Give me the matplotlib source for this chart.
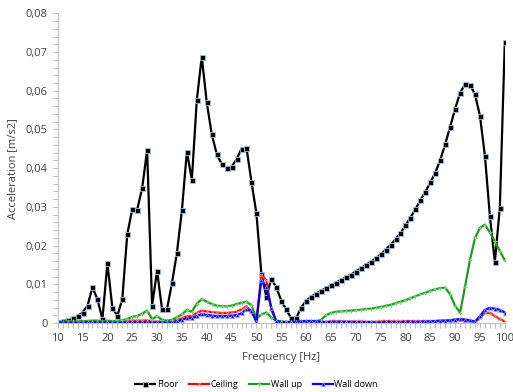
import numpy as np
import matplotlib.pyplot as plt
from matplotlib.ticker import MultipleLocator, FuncFormatter

plt.rcParams['font.family'] = ['Open Sans', 'DejaVu Sans']

# frequencies 10..100 Hz
freq = list(range(10, 101))

floor = [0.0003, 0.0005, 0.0009, 0.0012, 0.0018, 0.0027, 0.0045, 0.0092, 0.0061, 0.0010,
         0.0154, 0.0040, 0.0018, 0.0062, 0.0229, 0.0294, 0.0293, 0.0348, 0.0447, 0.0045,
         0.0135, 0.0036, 0.0036, 0.0103, 0.0182, 0.0291, 0.0443, 0.0370, 0.0576, 0.0688,
         0.0570, 0.0488, 0.0437, 0.0411, 0.0400, 0.0404, 0.0423, 0.0450, 0.0453, 0.0365,
         0.0283, 0.0127, 0.0068, 0.0114, 0.0092, 0.0058, 0.0035, 0.0012, 0.0012, 0.0040,
         0.0057, 0.0068, 0.0076, 0.0083, 0.0090, 0.0097, 0.0104, 0.0111, 0.0118, 0.0125,
         0.0133, 0.0141, 0.0150, 0.0158, 0.0167, 0.0177, 0.0189, 0.0202, 0.0216, 0.0232,
         0.0252, 0.0272, 0.0294, 0.0317, 0.0339, 0.0363, 0.0388, 0.0421, 0.0462, 0.0507,
         0.0553, 0.0595, 0.0617, 0.0615, 0.0591, 0.0535, 0.0432, 0.0276, 0.0158, 0.0298,
         0.0725]

ceiling = [0.0002, 0.0002, 0.0003, 0.0002, 0.0003, 0.0003, 0.0004, 0.0005, 0.0004, 0.0002,
           0.0004, 0.0003, 0.0002, 0.0003, 0.0005, 0.0006, 0.0006, 0.0006, 0.0007, 0.0003,
           0.0004, 0.0003, 0.0003, 0.0005, 0.0008, 0.0012, 0.0018, 0.0017, 0.0026, 0.0032,
           0.0030, 0.0028, 0.0027, 0.0026, 0.0026, 0.0027, 0.0029, 0.0035, 0.0043, 0.0030,
           0.0006, 0.0125, 0.0110, 0.0034, 0.0005, 0.0003, 0.0002, 0.0002, 0.0003, 0.0004,
           0.0004, 0.0005, 0.0004, 0.0003, 0.0003, 0.0004, 0.0004, 0.0004, 0.0003, 0.0003,
           0.0004, 0.0004, 0.0003, 0.0003, 0.0003, 0.0004, 0.0005, 0.0005, 0.0004, 0.0004,
           0.0005, 0.0005, 0.0004, 0.0004, 0.0004, 0.0004, 0.0005, 0.0005, 0.0006, 0.0006,
           0.0007, 0.0008, 0.0006, 0.0004, 0.0003, 0.0012, 0.0027, 0.0026, 0.0018, 0.0010,
           0.0004]

wall_up = [0.0003, 0.0003, 0.0004, 0.0004, 0.0004, 0.0005, 0.0005, 0.0006, 0.0006, 0.0004,
           0.0006, 0.0005, 0.0004, 0.0007, 0.0010, 0.0016, 0.0018, 0.0024, 0.0032, 0.0010,
           0.0018, 0.0008, 0.0006, 0.0008, 0.0015, 0.0022, 0.0034, 0.0029, 0.0050, 0.0062,
           0.0055, 0.0049, 0.0045, 0.0043, 0.0043, 0.0045, 0.0049, 0.0052, 0.0055, 0.0046,
           0.0012, 0.0022, 0.0027, 0.0014, 0.0006, 0.0004, 0.0003, 0.0003, 0.0003, 0.0004,
           0.0005, 0.0005, 0.0004, 0.0008, 0.0020, 0.0026, 0.0029, 0.0030, 0.0031, 0.0032,
           0.0033, 0.0034, 0.0036, 0.0037, 0.0039, 0.0041, 0.0044, 0.0047, 0.0051, 0.0055,
           0.0059, 0.0064, 0.0069, 0.0074, 0.0078, 0.0083, 0.0087, 0.0090, 0.0091, 0.0074,
           0.0044, 0.0027, 0.0094, 0.0164, 0.0219, 0.0246, 0.0254, 0.0234, 0.0211, 0.0186,
           0.0162]

wall_down = [0.0001, 0.0001, 0.0001, 0.0001, 0.0001, 0.0001, 0.0002, 0.0002, 0.0002, 0.0001,
             0.0002, 0.0001, 0.0001, 0.0001, 0.0002, 0.0002, 0.0002, 0.0002, 0.0002, 0.0001,
             0.0002, 0.0001, 0.0001, 0.0002, 0.0004, 0.0008, 0.0013, 0.0012, 0.0018, 0.0023,
             0.0021, 0.0019, 0.0018, 0.0018, 0.0018, 0.0019, 0.0020, 0.0025, 0.0035, 0.0031,
             0.0003, 0.0112, 0.0092, 0.0040, 0.0005, 0.0002, 0.0002, 0.0002, 0.0003, 0.0004,
             0.0005, 0.0005, 0.0005, 0.0003, 0.0002, 0.0003, 0.0003, 0.0003, 0.0003, 0.0003,
             0.0002, 0.0002, 0.0002, 0.0002, 0.0001, 0.0001, 0.0002, 0.0002, 0.0002, 0.0002,
             0.0003, 0.0003, 0.0003, 0.0003, 0.0004, 0.0004, 0.0005, 0.0006, 0.0006, 0.0007,
             0.0009, 0.0010, 0.0009, 0.0007, 0.0003, 0.0018, 0.0034, 0.0039, 0.0037, 0.0034,
             0.0027]

fig = plt.figure(figsize=(5.13, 3.92), dpi=100)
ax = fig.add_axes([0.1125, 0.176, 0.8715, 0.79])

ax.plot(freq, floor, color='black', lw=1.6, marker='s', ms=3.6,
        mfc='black', mec='#9dc3e6', mew=0.6, label='Floor')
ax.plot(freq, ceiling, color='#ff0000', lw=1.6, marker='x', ms=2.5,
        mec='#ff9a9a', mew=0.6, label='Ceiling')
ax.plot(freq, wall_up, color='#1f9a1f', lw=1.6, marker='+', ms=3,
        mec='#6cd46c', mew=0.8, label='Wall up')
ax.plot(freq, wall_down, color='#0000ff', lw=1.6, marker='^', ms=2.8,
        mfc='#0000ff', mec='#8fa8ff', mew=0.5, label='Wall down')

ax.set_xlim(10, 100)
ax.set_ylim(0, 0.08)
ax.xaxis.set_major_locator(MultipleLocator(5))
ax.xaxis.set_minor_locator(MultipleLocator(1))
ax.yaxis.set_major_locator(MultipleLocator(0.01))
ax.yaxis.set_minor_locator(MultipleLocator(0.002))
ax.yaxis.set_major_formatter(FuncFormatter(
    lambda v, p: '0' if abs(v) < 1e-9 else f'{v:.2f}'.replace('.', ',')))

for s in ['top', 'right']:
    ax.spines[s].set_visible(False)
for s in ['left', 'bottom']:
    ax.spines[s].set_color('#bfbfbf')
ax.tick_params(which='both', colors='#bfbfbf', length=3.5, width=0.8,
               labelcolor='#404040', labelsize=8)

ax.set_xlabel('Frequency [Hz]', fontsize=8, color='#404040', labelpad=6)
ax.set_ylabel('Acceleration [m/s2]', fontsize=8, color='#404040', labelpad=6)

fig.legend(loc='lower center', bbox_to_anchor=(0.5, -0.013), ncol=4,
           frameon=False, fontsize=6.5, handlelength=2.2, columnspacing=1.2,
           handletextpad=0.2)

fig.savefig('out.png', dpi=100)
